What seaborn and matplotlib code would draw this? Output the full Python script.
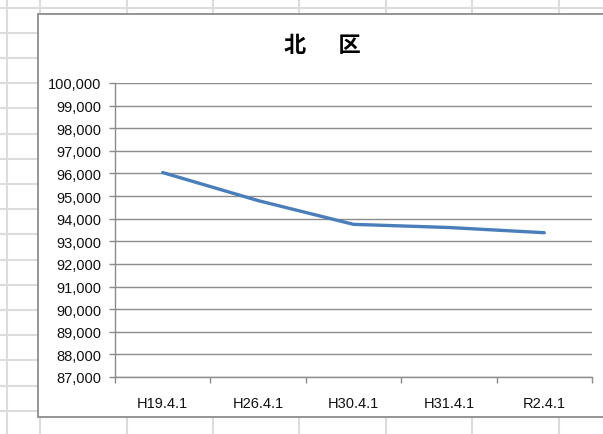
import matplotlib
matplotlib.use("Agg")
import matplotlib.pyplot as plt
from matplotlib.patches import Rectangle
from matplotlib.ticker import FuncFormatter, FixedLocator
import pandas as pd
import seaborn as sns

# data
dates = ["H19.4.1", "H26.4.1", "H30.4.1", "H31.4.1", "R2.4.1"]
population = [96040, 94800, 93750, 93610, 93380]
y_ticks = list(range(87000, 100001, 1000))

df = pd.DataFrame({"date": dates, "pop": population})

sns.set_theme(style="white")
plt.rcParams["font.family"] = ["Liberation Sans", "Noto Sans CJK JP", "DejaVu Sans"]

W, H = 603, 435
fig = plt.figure(figsize=(W / 100, H / 100), dpi=100)
fig.patch.set_facecolor("white")

# spreadsheet background with cell grid
bg = fig.add_axes([0, 0, 1, 1])
bg.set_xlim(0, W)
bg.set_ylim(H, 0)
bg.axis("off")
cell_color = "#dcdcdc"
for yy in [8.5 + 25.2 * k for k in range(18)]:
    bg.plot([0, W], [yy, yy], color=cell_color, lw=1.5, zorder=1)
for xx in [7, 40, 127, 213, 299, 386, 472, 559]:
    bg.plot([xx, xx], [0, H], color=cell_color, lw=1.5, zorder=1)
bg.add_patch(Rectangle((38, 15), W, 403, facecolor="white",
                       edgecolor="#8c8c8c", lw=1.3, zorder=2))

# chart
ax = fig.add_axes([115 / W, 1 - 378 / H, (592 - 115) / W, (378 - 84) / H])
ax.set_facecolor("none")
sns.lineplot(data=df, x="date", y="pop", ax=ax, color="#4a7ebb", lw=2.4,
             sort=False)

ax.set_xlim(-0.5, len(dates) - 0.5)
ax.set_ylim(y_ticks[0], y_ticks[-1])
ax.set_yticks(y_ticks)
ax.yaxis.set_major_formatter(FuncFormatter(lambda v, p: f"{int(v):,}"))
ax.set_xticks(range(len(dates)))
ax.set_xticklabels(dates)
ax.xaxis.set_minor_locator(FixedLocator([i - 0.5 for i in range(len(dates) + 1)]))
ax.grid(axis="y", color="#8c8c8c", lw=1.0)
ax.set_axisbelow(True)
ax.set_xlabel("")
ax.set_ylabel("")

for side in ["top", "right"]:
    ax.spines[side].set_visible(False)
for side in ["left", "bottom"]:
    ax.spines[side].set_color("#8c8c8c")
    ax.spines[side].set_linewidth(1.0)

ax.tick_params(axis="y", which="major", left=True, length=4, width=1.0,
               color="#8c8c8c", pad=6, labelsize=10.5, labelcolor="#111111")
ax.tick_params(axis="x", which="major", bottom=False, length=0, pad=14,
               labelsize=10.5, labelcolor="#111111")
ax.tick_params(axis="x", which="minor", bottom=True, length=4, width=1.0,
               color="#8c8c8c")

fig.text(322 / W, 1 - 46 / H, "北\u3000  区", ha="center", va="center",
         fontsize=16, fontweight="bold", color="black",
         family=["Noto Sans CJK JP", "DejaVu Sans"])

fig.savefig("out.png", dpi=100)
